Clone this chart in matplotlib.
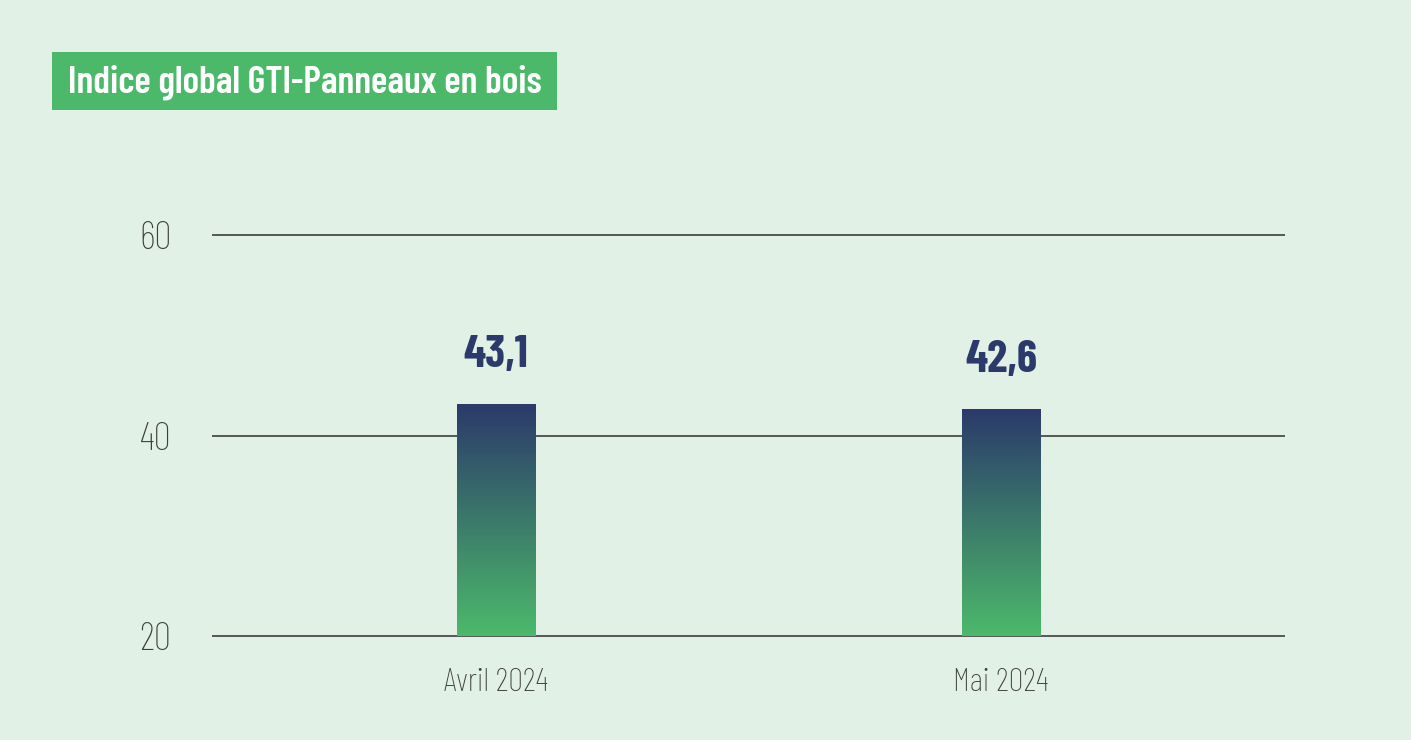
import numpy as np
import matplotlib
matplotlib.use('Agg')
import matplotlib.pyplot as plt
from matplotlib.colors import LinearSegmentedColormap
from matplotlib.patches import Rectangle

# data
months = ['Avril 2024', 'Mai 2024']
values = [43.1, 42.6]
value_labels = ['43,1', '42,6']
yticks = [20, 40, 60]

plt.rcParams['font.family'] = ['Barlow Condensed', 'DejaVu Sans']

bg = '#E1F1E6'
navy = '#2B3A6B'
green = '#4CB96A'

fig = plt.figure(figsize=(14.11, 7.4), dpi=100, facecolor=bg)
ax = fig.add_axes([0.151, 0.1405, 0.759, 0.5419])
ax.set_facecolor(bg)

x = np.arange(len(months))
width = 0.156
bars = ax.bar(x, np.array(values) - 20, bottom=20, width=width, color='none', zorder=3)

# vertical gradient inside each bar
cmap = LinearSegmentedColormap.from_list('g', [green, navy])
grad = np.linspace(0, 1, 256).reshape(-1, 1)
for b in bars:
    x0, y0 = b.get_x(), b.get_y()
    w, h = b.get_width(), b.get_height()
    im = ax.imshow(grad, cmap=cmap, origin='lower', aspect='auto',
                   extent=[x0, x0 + w, y0, y0 + h], zorder=3)
    im.set_clip_path(b)

for xi, v, lab in zip(x, values, value_labels):
    ax.annotate(lab, (xi, v), xytext=(0, 21), textcoords='offset points',
                ha='center', va='bottom', fontsize=33, fontweight='bold', color=navy)

ax.set_xlim(-0.56, 1.56)
ax.set_ylim(20, 60)
ax.set_yticks(yticks)
ax.set_xticks(x)
ax.set_xticklabels(months)
ax.yaxis.grid(True, color='#575B5B', linewidth=1.44, zorder=1)
ax.set_axisbelow(True)
for gl in ax.get_ygridlines():
    gl.set_clip_on(False)
for s in ax.spines.values():
    s.set_visible(False)
ax.tick_params(axis='y', length=0, pad=30, labelsize=28, labelcolor='#3E3E3E')
ax.tick_params(axis='x', length=0, pad=23, labelsize=24, labelcolor='#3E3E3E')
for t in ax.get_xticklabels() + ax.get_yticklabels():
    t.set_fontweight('light')

# title box
fig.patches.append(Rectangle((52 / 1411, 1 - 110 / 740), 505 / 1411, 58 / 740,
                             transform=fig.transFigure, facecolor=green,
                             edgecolor='none'))
fig.text(305 / 1411, 1 - 82 / 740, 'Indice global GTI-Panneaux en bois',
         ha='center', va='center', fontsize=27.5, fontweight='semibold', color='white')

fig.savefig('out.png', dpi=100, facecolor=bg)
